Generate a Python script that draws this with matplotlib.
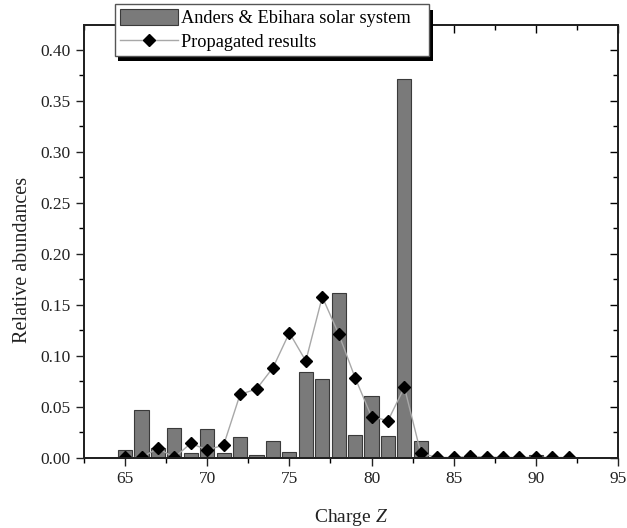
import matplotlib
matplotlib.use("Agg")
import matplotlib.pyplot as plt
from matplotlib.ticker import MultipleLocator
import matplotlib.patheffects as pe

plt.rcParams['font.family'] = ['Liberation Serif', 'DejaVu Serif']
plt.rcParams['mathtext.fontset'] = 'custom'
plt.rcParams['mathtext.it'] = 'Liberation Serif:italic'
plt.rcParams['mathtext.rm'] = 'Liberation Serif'

# Anders & Ebihara solar system abundances (bars)
bar_z = [65, 66, 67, 68, 69, 70, 71, 72, 73, 74, 75, 76, 77, 78, 79, 80, 81, 82, 83, 90]
bar_vals = [0.0078, 0.047, 0.010, 0.0297, 0.0052, 0.0287, 0.0049, 0.0209, 0.003, 0.0163,
            0.0058, 0.0846, 0.0777, 0.1615, 0.0225, 0.061, 0.0219, 0.3716, 0.0167, 0.003]

# Propagated results (diamonds)
prop_z = [65, 66, 67, 68, 69, 70, 71, 72, 73, 74, 75, 76, 77, 78, 79, 80, 81, 82, 83,
          84, 85, 86, 87, 88, 89, 90, 91, 92]
prop_vals = [0.0005, 0.0005, 0.0095, 0.0005, 0.0144, 0.0078, 0.0127, 0.0624, 0.0676, 0.0885,
             0.1228, 0.0951, 0.158, 0.1216, 0.0787, 0.0405, 0.0366, 0.0693, 0.0046,
             0.0005, 0.0005, 0.0015, 0.0008, 0.0005, 0.0005, 0.0008, 0.0005, 0.0005]

x_ticks = [65, 70, 75, 80, 85, 90, 95]
y_ticks = [0.00, 0.05, 0.10, 0.15, 0.20, 0.25, 0.30, 0.35, 0.40]

fig = plt.figure(figsize=(6.27, 5.28), dpi=100)
ax = fig.add_axes([84/627, 1 - 458/528, (618 - 84)/627, (458 - 25)/528])

bars = ax.bar(bar_z, bar_vals, width=0.86, color='#7a7a7a', edgecolor='#3a3a3a',
              linewidth=0.8, label='Anders & Ebihara solar system   ', zorder=2)
line, = ax.plot(prop_z, prop_vals, color='#a8a8a8', linewidth=1.0, marker='D',
                markersize=6.5, markerfacecolor='black', markeredgecolor='black',
                label='Propagated results', zorder=3, clip_on=True)

ax.set_xlim(62.5, 95)
ax.set_ylim(0, 0.4245)
ax.set_xticks(x_ticks)
ax.set_yticks(y_ticks)
ax.set_yticklabels([f'{v:.2f}' for v in y_ticks])
ax.xaxis.set_minor_locator(MultipleLocator(2.5))
ax.yaxis.set_minor_locator(MultipleLocator(0.025))
ax.tick_params(axis='both', which='major', direction='out', length=6, width=1.0,
               labelsize=12.5, colors='#222222')
ax.tick_params(axis='both', which='minor', direction='out', length=3.5, width=1.0)
for s in ax.spines.values():
    s.set_linewidth(1.2)
    s.set_color('#222222')

# top/right ticks pointing inward
ax2 = ax.twinx()
ax2.set_ylim(ax.get_ylim())
ax2.set_yticks(y_ticks)
ax2.yaxis.set_minor_locator(MultipleLocator(0.025))
ax2.tick_params(axis='y', which='major', direction='in', length=6, width=1.0, labelright=False)
ax2.tick_params(axis='y', which='minor', direction='in', length=3.5, width=1.0)
ax3 = ax.twiny()
ax3.set_xlim(ax.get_xlim())
ax3.set_xticks(x_ticks)
ax3.xaxis.set_minor_locator(MultipleLocator(2.5))
ax3.tick_params(axis='x', which='major', direction='in', length=6, width=1.0, labeltop=False)
ax3.tick_params(axis='x', which='minor', direction='in', length=3.5, width=1.0)
for a in (ax2, ax3):
    for s in a.spines.values():
        s.set_linewidth(1.2)
        s.set_color('#222222')

ax.set_xlabel('Charge $\\mathit{Z}$', fontsize=14, labelpad=14, color='#222222')
ax.set_ylabel('Relative abundances', fontsize=14.5, color='#222222')
ax.yaxis.set_label_coords(-0.097, 0.457)

leg = fig.legend(handles=[bars, line], loc='upper left',
                 bbox_to_anchor=(115/627, 1 - 4/528), borderaxespad=0,
                 fontsize=13.2, frameon=True, fancybox=False, shadow=False,
                 edgecolor='#555555', framealpha=1, borderpad=0.25,
                 handlelength=3.2, handleheight=1.0, handletextpad=0.15,
                 labelspacing=0.3)
leg.get_frame().set_linewidth(1.0)
leg.get_frame().set_path_effects([
    pe.SimplePatchShadow(offset=(2.5, -4), shadow_rgbFace='black', alpha=1.0),
    pe.Normal()])
leg.set_zorder(10)

fig.savefig('out.png', dpi=100)
